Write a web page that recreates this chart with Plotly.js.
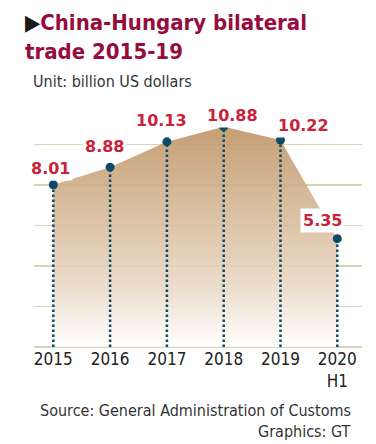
<!DOCTYPE html>
<html>
<head>
<meta charset="utf-8">
<script src="https://cdn.plot.ly/plotly-3.0.1.min.js"></script>
<style>html,body{margin:0;padding:0;background:#fff;}#chart{width:376px;height:444px;}</style>
</head>
<body>
<div id="chart"></div>
<script>
// ---- data ----
const years = ["2015", "2016", "2017", "2018", "2019", "2020<br>H1"];
const tradeValues = [8.01, 8.88, 10.13, 10.88, 10.22, 5.35];
const valueLabels = ["8.01", "8.88", "10.13", "10.88", "10.22", "5.35"];
const yTicks = [0, 2, 4, 6, 8, 10, 12];

// ---- layout helpers (pixel -> paper) ----
const L = 34, R = 362, T = 104, B = 347;
const W = 376, H = 444;
const px = x => (x - L) / (R - L);
const py = y => (B - y) / (B - T);

// label offsets (pixels) relative to each point
const labelShift = [[-3, 16], [-6, 21], [-5, 21], [9, 11], [23, 15], [-15, 18]];

const idx = years.map((_, i) => i);
const traces = [];

// filled area
traces.push({
  x: idx, y: tradeValues, type: 'scatter', mode: 'lines',
  line: {width: 0, color: 'rgba(0,0,0,0)'},
  fill: 'tozeroy',
  fillgradient: {
    type: 'vertical',
    colorscale: [[0, 'rgba(255,255,255,0.9)'], [0.3, 'rgba(232,214,193,0.9)'], [1, 'rgba(192,150,104,0.92)']]
  },
  hoverinfo: 'skip', showlegend: false
});

// dotted drop lines
idx.forEach(i => {
  traces.push({
    x: [i, i], y: [0, tradeValues[i]], type: 'scatter', mode: 'lines',
    line: {color: '#0d4a68', width: 2.5, dash: '2.5px,2.5px'},
    hoverinfo: 'skip', showlegend: false
  });
});

// markers
traces.push({
  x: idx, y: tradeValues, type: 'scatter', mode: 'markers',
  marker: {color: '#0d4a68', size: 9},
  hoverinfo: 'skip', showlegend: false
});

const annotations = idx.map(i => ({
  x: i, y: tradeValues[i], xref: 'x', yref: 'y',
  text: valueLabels[i], showarrow: false,
  xshift: labelShift[i][0], yshift: labelShift[i][1],
  xanchor: 'center', yanchor: 'middle',
  bgcolor: '#ffffff', borderpad: 2,
  font: {family: 'DejaVu Sans', size: 16, color: '#c8233a', weight: 'bold'}
}));

const titleFont = {family: 'DejaVu Sans Condensed', size: 22, color: '#960c3e', weight: 'bold'};
annotations.push(
  {xref: 'paper', yref: 'paper', x: px(23), y: py(22), xanchor: 'left', yanchor: 'middle', showarrow: false,
   text: '<span style="color:#1a1a1a">▶</span>China-Hungary bilateral', font: titleFont},
  {xref: 'paper', yref: 'paper', x: px(23), y: py(51), xanchor: 'left', yanchor: 'middle', showarrow: false,
   text: 'trade 2015-19', font: titleFont},
  {xref: 'paper', yref: 'paper', x: px(31), y: py(81), xanchor: 'left', yanchor: 'middle', showarrow: false,
   text: 'Unit: billion US dollars', font: {family: 'DejaVu Sans Condensed', size: 16, color: '#333333'}},
  {xref: 'paper', yref: 'paper', x: px(353), y: py(410), xanchor: 'right', yanchor: 'middle', showarrow: false,
   text: 'Source: General Administration of Customs', font: {family: 'DejaVu Sans Condensed', size: 16, color: '#333333'}},
  {xref: 'paper', yref: 'paper', x: px(353), y: py(431), xanchor: 'right', yanchor: 'middle', showarrow: false,
   text: 'Graphics: GT', font: {family: 'DejaVu Sans Condensed', size: 16, color: '#333333'}}
);

const layout = {
  width: W, height: H,
  margin: {l: L, r: W - R, t: T, b: H - B, pad: 0},
  paper_bgcolor: '#ffffff', plot_bgcolor: '#ffffff',
  showlegend: false,
  xaxis: {
    range: [-0.34, 5.435], tickvals: idx, ticktext: years,
    showgrid: false, zeroline: false, showline: false, ticks: '',
    tickfont: {family: 'DejaVu Sans Condensed', size: 17, color: '#222222'},
    fixedrange: true
  },
  yaxis: {
    range: [0, 12], tickvals: yTicks, showticklabels: false,
    showgrid: true, gridcolor: '#d9d4b8', gridwidth: 1.2,
    zeroline: true, zerolinecolor: '#d9d4b8', zerolinewidth: 1.5,
    ticks: '', fixedrange: true
  },
  annotations: annotations
};

Plotly.newPlot('chart', traces, layout, {displayModeBar: false, staticPlot: true});
</script>
</body>
</html>
